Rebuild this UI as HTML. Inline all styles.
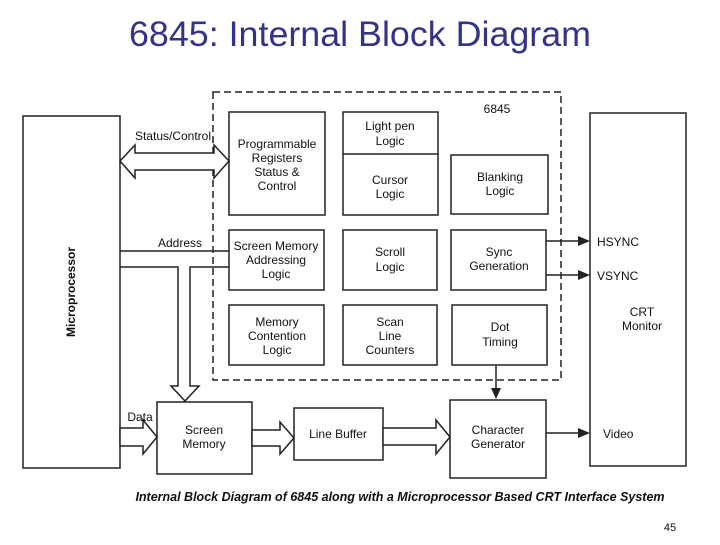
<!DOCTYPE html>
<html><head><style>
body{margin:0;width:720px;height:540px;background:#fff;overflow:hidden;font-family:"Liberation Sans",sans-serif}
</style></head><body>
<svg width="720" height="540" viewBox="0 0 720 540" xmlns="http://www.w3.org/2000/svg" font-family="Liberation Sans, sans-serif">
<text x="360" y="46" text-anchor="middle" font-size="35" fill="#333388" textLength="462" lengthAdjust="spacingAndGlyphs">6845: Internal Block Diagram</text>
<g fill="none" stroke="#222" stroke-width="1.5">
<rect x="213" y="92" width="348" height="288" stroke-dasharray="7,4"/>
<rect x="23" y="116" width="97" height="352"/>
<rect x="590" y="113" width="96" height="353"/>
<rect x="229" y="112" width="96" height="103"/>
<rect x="343" y="112" width="95" height="103"/>
<line x1="343" y1="154" x2="438" y2="154"/>
<rect x="451" y="155" width="97" height="59"/>
<rect x="229" y="230" width="95" height="60"/>
<rect x="343" y="230" width="94" height="60"/>
<rect x="451" y="230" width="95" height="60"/>
<rect x="229" y="305" width="95" height="60"/>
<rect x="343" y="305" width="94" height="60"/>
<rect x="452" y="305" width="95" height="60"/>
<rect x="157" y="402" width="95" height="72"/>
<rect x="294" y="408" width="89" height="52"/>
<rect x="450" y="400" width="96" height="78"/>
<polygon points="120,161 135,145 135,153 214,153 214,145 229,161 214,178 214,170 135,170 135,178" fill="#fff"/>
<line x1="120" y1="251" x2="229" y2="251"/>
<polyline points="120,267 178,267 178,386 171,386 185,401 199,386 190,386 190,267 229,267"/>
<polygon points="120,428 143,428 143,420 157,437 143,454 143,446 120,446" fill="#fff"/>
<polygon points="252,430 280,430 280,422 294,438 280,454 280,446 252,446" fill="#fff"/>
<polygon points="383,428 436,428 436,420 450,437 436,454 436,445 383,445" fill="#fff"/>
<line x1="546" y1="241" x2="580" y2="241"/>
<line x1="546" y1="275" x2="580" y2="275"/>
<line x1="546" y1="433" x2="580" y2="433"/>
<line x1="496" y1="365" x2="496" y2="390"/>
</g>
<g fill="#222">
<polygon points="590,241 578,236 578,246"/>
<polygon points="590,275 578,270 578,280"/>
<polygon points="590,433 578,428 578,438"/>
<polygon points="496,399 491,388 501,388"/>
</g>
<g font-size="12" fill="#111" text-anchor="middle">
<text x="173" y="140">Status/Control</text>
<text x="180" y="247">Address</text>
<text x="140" y="421">Data</text>
<text x="497" y="113">6845</text>
<text x="277" y="148">Programmable</text><text x="277" y="162">Registers</text><text x="277" y="176">Status &amp;</text><text x="277" y="190">Control</text>
<text x="390" y="130">Light pen</text><text x="390" y="145">Logic</text>
<text x="390" y="184">Cursor</text><text x="390" y="198">Logic</text>
<text x="500" y="181">Blanking</text><text x="500" y="195">Logic</text>
<text x="276" y="250">Screen Memory</text><text x="276" y="264">Addressing</text><text x="276" y="278">Logic</text>
<text x="390" y="256">Scroll</text><text x="390" y="271">Logic</text>
<text x="499" y="256">Sync</text><text x="499" y="270">Generation</text>
<text x="277" y="326">Memory</text><text x="277" y="340">Contention</text><text x="277" y="354">Logic</text>
<text x="390" y="326">Scan</text><text x="390" y="340">Line</text><text x="390" y="354">Counters</text>
<text x="500" y="331">Dot</text><text x="500" y="346">Timing</text>
<text x="204" y="434">Screen</text><text x="204" y="448">Memory</text>
<text x="338" y="438">Line Buffer</text>
<text x="498" y="434">Character</text><text x="498" y="448">Generator</text>
<text x="642" y="316">CRT</text><text x="642" y="330">Monitor</text>
<text x="75" y="292" transform="rotate(-90 75 292)" font-weight="bold">Microprocessor</text>
</g>
<g font-size="12" fill="#111">
<text x="597" y="246">HSYNC</text>
<text x="597" y="280">VSYNC</text>
<text x="603" y="438">Video</text>
</g>
<text x="400" y="501" text-anchor="middle" font-size="12.5" font-style="italic" font-weight="bold" fill="#111">Internal  Block Diagram of 6845 along with a Microprocessor Based CRT Interface System</text>
<text x="670" y="531" text-anchor="middle" font-size="11" fill="#111">45</text>
</svg>
</body></html>
